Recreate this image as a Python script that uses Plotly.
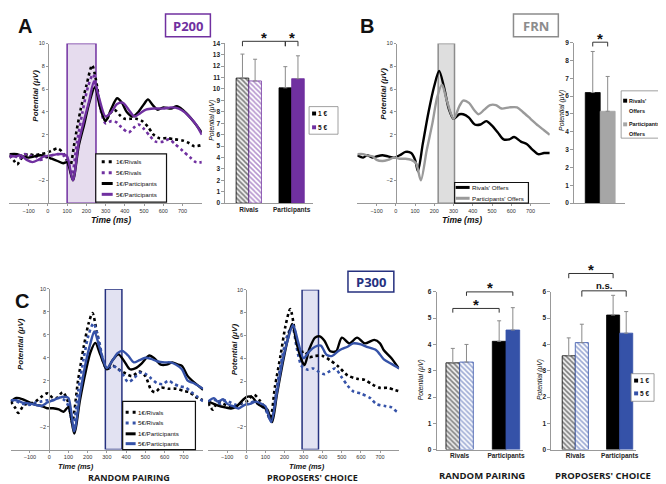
import plotly.graph_objects as go

# ======================= DATA =======================
TIME_TICKS = [-100, 0, 100, 200, 300, 400, 500, 600, 700]
ERP_YTICKS = [-2, 2, 4, 6, 8, 10]

A_WINDOW = [100, 250]
B_WINDOW = [220, 305]
C_WINDOW = [292, 378]

# ---- Panel A ERP (P200) ----
a_rival1_t = [-200,-175,-160,-130,-100,-70,-40,-10,20,50,75,100,115,140,170,200,230,250,275,300,320,345,375,400,430,460,490,520,550,580,620,660,700,730,760,800]
a_rival1_v = [0.2,-0.3,-0.6,0.1,0.3,0.2,0.3,0.4,0.6,0.8,0.5,-0.3,-0.8,1.5,4.2,6.3,8.1,6.8,4.3,3.2,3.8,4.2,3.7,3.4,3.4,3.4,3.2,2.7,2.0,1.7,1.7,1.6,1.5,1.3,1.0,1.1]
a_rival5_t = [-200,-175,-150,-120,-100,-70,-40,-10,20,50,80,105,125,150,180,210,235,255,280,300,330,355,380,420,445,470,500,530,560,600,630,660,700,740,770,800]
a_rival5_v = [0.0,0.2,-0.1,0.3,0.1,0.2,-0.2,0.0,0.2,0.3,0.2,-0.4,-1.5,1.2,4.0,6.3,7.3,6.0,3.8,3.0,3.2,3.1,2.7,2.2,2.6,2.9,2.5,1.9,1.4,1.4,1.6,1.2,0.6,0.0,-0.4,-0.4]
a_part1_t = [-200,-160,-130,-100,-70,-40,-10,20,50,80,100,130,160,190,215,245,270,300,330,360,385,410,440,470,500,520,545,570,600,640,670,700,730,760,800]
a_part1_v = [0.3,0.3,0.1,0.0,0.1,0.2,0.1,-0.1,-0.3,-0.5,-0.4,-2.0,1.0,3.0,4.8,6.2,4.5,3.2,4.3,5.2,4.8,4.0,3.6,4.0,4.7,5.1,4.6,4.2,4.4,4.3,4.5,4.2,3.7,3.1,2.2]
a_part5_t = [-200,-170,-140,-110,-80,-50,-20,20,50,80,100,130,160,190,215,240,265,300,330,360,390,420,450,480,510,550,600,640,680,710,740,770,800]
a_part5_v = [0.2,0.1,0.2,-0.2,-0.4,-0.2,0.1,0.2,0.3,0.3,0.1,-2.0,1.3,3.4,5.0,6.7,5.3,3.6,4.0,4.7,4.8,4.2,3.6,3.9,4.2,4.3,4.3,4.4,4.3,4.0,3.5,2.9,2.0]

# ---- Panel B ERP (FRN) ----
b_rivals_t = [-200,-170,-150,-120,-100,-70,-40,-10,20,50,80,100,115,140,170,200,225,250,275,300,330,350,380,410,440,470,500,530,560,590,615,650,680,710,740,770,800]
b_rivals_v = [0.2,0.0,0.2,0.0,0.1,0.2,0.1,0.0,0.2,0.5,0.4,-0.2,-1.2,1.2,4.0,6.3,7.6,6.2,4.3,3.4,3.8,3.8,3.5,2.9,2.9,3.2,2.8,2.2,1.6,1.6,1.8,1.4,1.2,0.7,0.3,0.4,0.4]
b_part_t = [-200,-170,-150,-120,-100,-70,-40,-10,20,50,80,105,130,160,190,215,240,265,300,330,350,380,410,430,460,490,520,550,590,630,660,700,740,770,800]
b_part_v = [0.3,0.3,0.2,0.1,-0.2,-0.3,-0.2,0.0,-0.1,-0.1,-0.2,-0.5,-2.0,0.6,3.0,5.3,6.4,5.0,3.4,4.5,5.0,4.8,4.1,3.8,4.2,4.6,4.6,4.3,4.4,4.4,4.0,3.4,2.8,2.4,2.0]

# ---- Panel C ERP, random pairing ----
crp_rival1_t = [-200,-175,-160,-130,-100,-70,-40,-10,20,40,70,95,120,150,180,205,225,250,275,300,330,360,400,430,470,500,530,550,580,620,660,700,730,760,800]
crp_rival1_v = [0.2,-0.4,-0.8,-0.1,0.0,0.2,0.6,0.9,0.5,0.5,1.0,0.3,-1.5,2.0,5.0,7.0,7.9,6.0,4.0,3.0,3.3,3.0,2.6,2.4,2.8,2.4,1.2,1.0,1.4,1.3,1.3,1.1,1.0,0.6,0.3]
crp_rival5_t = [-200,-170,-140,-100,-70,-40,-10,20,50,80,100,125,150,180,205,230,255,280,300,330,360,380,410,440,470,500,530,560,590,620,650,680,710,740,770,800]
crp_rival5_v = [0.3,0.2,0.0,-0.1,0.1,0.2,0.3,0.3,0.5,0.3,-0.2,-2.0,1.0,4.0,6.0,7.0,5.8,3.8,3.0,3.3,3.0,2.6,1.9,2.2,2.7,2.6,2.2,1.8,1.7,2.0,1.7,1.5,1.4,1.0,0.6,0.2]
crp_part1_t = [-200,-170,-140,-100,-70,-40,-10,20,50,75,100,130,160,190,215,240,265,300,330,360,390,420,450,480,520,550,580,610,640,670,690,720,750,780,800]
crp_part1_v = [0.2,0.5,0.4,0.1,-0.1,-0.2,-0.4,-0.4,-0.5,-0.7,-0.3,-2.6,0.3,2.8,4.5,5.3,4.3,3.0,3.8,4.3,3.7,3.0,3.1,3.5,4.2,3.9,3.4,3.4,3.6,3.4,3.3,2.4,1.9,1.5,1.2]
crp_part5_t = [-200,-170,-140,-100,-70,-40,-10,20,50,80,100,130,160,190,215,235,260,300,330,355,380,410,440,470,500,530,560,600,630,660,690,720,750,780,800]
crp_part5_v = [0.3,0.3,0.1,0.0,-0.1,-0.2,0.1,0.3,0.5,0.6,0.5,-2.4,0.8,3.6,5.3,6.3,5.0,3.1,3.8,4.4,4.6,4.2,3.6,3.8,4.0,3.9,3.7,3.6,3.6,3.4,3.0,2.0,1.8,1.5,1.3]

# ---- Panel C ERP, proposers' choice ----
cpc_rival1_t = [-200,-175,-150,-120,-90,-60,-30,0,40,70,100,125,150,180,205,230,255,280,305,330,360,400,440,480,530,580,620,660,700,740,780,800]
cpc_rival1_v = [0.1,-0.5,0.2,0.0,-0.2,-0.3,0.0,0.2,0.8,0.3,-0.4,-1.3,1.5,4.3,6.8,8.3,6.3,4.5,4.6,4.1,4.2,4.2,3.8,3.3,2.5,2.2,2.1,1.7,1.4,1.4,1.2,1.1]
cpc_rival5_t = [-200,-170,-140,-110,-80,-50,-20,10,40,70,100,130,160,190,215,240,265,290,320,350,380,410,440,465,500,530,560,600,650,680,730,760,790,800]
cpc_rival5_v = [0.2,0.4,0.0,0.3,0.1,-0.1,0.1,0.0,0.2,-0.1,-0.5,-1.5,1.5,4.3,6.0,6.8,4.8,3.3,3.0,3.1,2.8,2.6,2.9,3.1,2.3,1.6,1.1,0.9,0.5,0.0,-0.2,-0.3,-0.7,-0.7]
cpc_part1_t = [-200,-170,-140,-110,-80,-50,-20,0,30,60,90,110,135,160,190,215,240,265,290,305,330,360,385,410,440,470,500,540,580,620,670,700,720,760,790,800]
cpc_part1_v = [0.2,0.0,-0.2,-0.3,-0.4,-0.2,0.3,0.6,0.6,0.0,-0.3,-0.5,-1.6,0.8,3.5,5.5,7.0,5.2,3.8,3.4,4.8,5.8,5.9,5.5,4.6,4.6,5.8,5.3,5.8,5.3,5.6,5.3,4.7,4.0,3.3,3.1]
cpc_part5_t = [-200,-170,-150,-120,-100,-70,-40,-10,20,50,80,100,130,160,190,215,245,270,300,330,360,390,420,450,480,500,530,560,600,630,680,720,760,790,800]
cpc_part5_v = [0.2,0.5,0.2,0.4,0.0,-0.2,-0.4,-0.1,0.0,0.2,0.0,-0.2,-1.6,1.0,3.8,5.5,6.9,5.5,4.0,4.6,5.0,5.1,4.3,4.2,4.6,4.8,5.0,5.3,5.2,5.0,4.7,3.9,3.5,3.2,3.1]

# ---- Bar charts ----
BAR_GROUPS = ['Rivals', 'Participants']
a_bar_1e = [10.95, 10.10]
a_bar_1e_err = [2.10, 1.85]
a_bar_5e = [10.70, 10.90]
a_bar_5e_err = [1.90, 2.00]

B_BAR_CAT = ['Offers']
b_bar_rivals = [6.20]
b_bar_rivals_err = [2.30]
b_bar_part = [5.15]
b_bar_part_err = [1.95]

c_rp_1e = [3.30, 4.12]
c_rp_1e_err = [0.55, 0.78]
c_rp_5e = [3.33, 4.55]
c_rp_5e_err = [0.67, 0.85]

c_pc_1e = [3.57, 5.12]
c_pc_1e_err = [0.68, 0.75]
c_pc_5e = [4.07, 4.43]
c_pc_5e_err = [0.70, 0.82]

# ======================= STYLE / LAYOUT =======================
W, H = 666, 484
def px(x): return x / W
def py(y): return 1 - y / H

PURPLE = '#7030A0'
BLUE = '#3552A8'
NAVY = '#26317F'
GRAY = '#9A9A9A'
BLACK = '#000000'
TICKFONT = dict(family='Liberation Sans', size=5.5, color='#333')
BARGAP = 0.41

fig = go.Figure()
shapes = []
annos = []

def erp_axes(n, dom_px, ydom_px, zero_px):
    fig.layout[f'xaxis{n}'] = dict(domain=[px(dom_px[0]), px(dom_px[1])], range=[-200, 800],
                                  anchor=f'y{n}', tickvals=TIME_TICKS, ticks='outside', ticklen=2,
                                  tickcolor='#999', showline=True, linecolor='#999', linewidth=1,
                                  showgrid=False, zeroline=False, tickfont=TICKFONT, fixedrange=True)
    fig.layout[f'yaxis{n}'] = dict(domain=[py(ydom_px[1]), py(ydom_px[0])], range=[-4, 10],
                                  anchor='free', position=px(zero_px), tickvals=ERP_YTICKS,
                                  ticks='outside', ticklen=2, tickcolor='#999', showline=True,
                                  linecolor='#999', linewidth=1, showgrid=False, zeroline=False,
                                  tickfont=TICKFONT, fixedrange=True)

def erp_line(n, t, v, color, dotted):
    fig.add_trace(go.Scatter(x=t, y=v, mode='lines', xaxis=f'x{n}', yaxis=f'y{n}',
                             line=dict(color=color, width=2.6 if dotted else 2.4,
                                       dash='3px,3px' if dotted else 'solid',
                                       shape='spline', smoothing=0.8),
                             showlegend=False, hoverinfo='skip'))

def window(n, win, fill, edge):
    shapes.append(dict(type='rect', xref=f'x{n}', yref=f'y{n}', x0=win[0], x1=win[1], y0=-4, y1=10,
                       fillcolor=fill, line=dict(color=edge, width=1.5), layer='below'))

BAR_AX = {}
def bar_axes(n, dom_px, ydom_px, c0_px, unit_px, yrange, dtick, show_cats=True):
    r0 = (dom_px[0] - c0_px) / unit_px
    r1 = (dom_px[1] - c0_px) / unit_px
    BAR_AX[n] = dict(dom=dom_px, ydom=ydom_px, r=(r0, r1), yr=yrange)
    fig.layout[f'xaxis{n}'] = dict(domain=[px(dom_px[0]), px(dom_px[1])], range=[r0, r1],
                                  anchor=f'y{n}', showline=True, linecolor='#999', linewidth=1,
                                  ticks='', showgrid=False, zeroline=False, showticklabels=show_cats,
                                  tickfont=dict(family='Liberation Sans', size=6.5, color='#222', weight='bold'),
                                  fixedrange=True)
    fig.layout[f'yaxis{n}'] = dict(domain=[py(ydom_px[1]), py(ydom_px[0])], range=yrange, dtick=dtick,
                                  anchor=f'x{n}', ticks='outside', ticklen=3, tickcolor='#999',
                                  showline=True, linecolor='#999', linewidth=1, showgrid=False,
                                  zeroline=False, tickfont=dict(family='Liberation Sans', size=6.5, color='#222', weight='bold'),
                                  fixedrange=True)

def bar_pair(n, cats, v1, e1, c1, v2, e2, c2, hatch_first=True):
    shp1 = ['\\' if (hatch_first and i == 0) else '' for i in range(len(cats))]
    for vals, errs, col in ((v1, e1, c1), (v2, e2, c2)):
        fig.add_trace(go.Bar(x=cats, y=vals, xaxis=f'x{n}', yaxis=f'y{n}',
                             marker=dict(color=col, line=dict(color=col, width=0.8),
                                         pattern=dict(shape=shp1, fgcolor=col, bgcolor='#f4f4f4' if col == BLACK else 'white',
                                                      size=3.5, solidity=0.45)),
                             error_y=dict(type='data', symmetric=False, array=errs,
                                          arrayminus=[0] * len(errs), color='#8a8a8a', thickness=1, width=2),
                             showlegend=False, hoverinfo='skip'))

def bar_xpx(n, cat, k):
    a = BAR_AX[n]
    c = cat + (-1 if k == 0 else 1) * (1 - BARGAP) / 4
    return a['dom'][0] + (c - a['r'][0]) / (a['r'][1] - a['r'][0]) * (a['dom'][1] - a['dom'][0])

def bar_ypx(n, v):
    a = BAR_AX[n]
    return a['ydom'][1] - (v - a['yr'][0]) / (a['yr'][1] - a['yr'][0]) * (a['ydom'][1] - a['ydom'][0])

def bracket(n, p1, p2, top, leg, label, size=15, dy=4):
    x1, x2 = bar_xpx(n, *p1), bar_xpx(n, *p2)
    yt, yl = bar_ypx(n, top), bar_ypx(n, leg)
    path = f'M {px(x1)},{py(yl)} L {px(x1)},{py(yt)} L {px(x2)},{py(yt)} L {px(x2)},{py(yl)}'
    shapes.append(dict(type='path', xref='paper', yref='paper', path=path,
                       line=dict(color='#333', width=1)))
    annos.append(dict(x=px((x1 + x2) / 2), y=py(yt - dy), xref='paper', yref='paper', text=label,
                      showarrow=False, xanchor='center', yanchor='middle',
                      font=dict(family='Liberation Sans', size=size, color='#111', weight='bold')))

def text(x, y, s, size, color='#111', bold=False, italic=False, angle=0, family='Liberation Sans', xanchor='center', weight=None):
    w = weight if weight is not None else ('bold' if bold else 'normal')
    annos.append(dict(x=px(x), y=py(y), xref='paper', yref='paper', text=s, showarrow=False,
                      xanchor=xanchor, yanchor='middle', textangle=angle, borderpad=0,
                      font=dict(family=family, size=size, color=color, weight=w,
                                style='italic' if italic else 'normal')))

def boxed_label(x0, y0, x1, y1, s, color, size=13):
    shapes.append(dict(type='rect', xref='paper', yref='paper', x0=px(x0), x1=px(x1), y0=py(y1), y1=py(y0),
                       line=dict(color=color, width=1.5), fillcolor='white'))
    text((x0 + x1) / 2, (y0 + y1) / 2 + 0.5, s, size, color=color, bold=True, family='Open Sans')

def erp_legend(box, rows, sx, tx, items, size=6.2):
    shapes.append(dict(type='rect', xref='paper', yref='paper', x0=px(box[0]), x1=px(box[2]),
                       y0=py(box[3]), y1=py(box[1]), line=dict(color='#111', width=1.2),
                       fillcolor='white', layer='above'))
    for (lab, col, dotted), yy in zip(items, rows):
        shapes.append(dict(type='line', xref='paper', yref='paper', x0=px(sx[0]), x1=px(sx[1]),
                           y0=py(yy), y1=py(yy), layer='above',
                           line=dict(color=col, width=3, dash='3px,4px' if dotted else 'solid')))
        text(tx, yy, lab, size, color='#111', xanchor='left')

def square_legend(box, rows, sqx, tx, items, size=6.5):
    shapes.append(dict(type='rect', xref='paper', yref='paper', x0=px(box[0]), x1=px(box[2]),
                       y0=py(box[3]), y1=py(box[1]), line=dict(color='#888', width=0.8), fillcolor='white'))
    for (lab, col), yy in zip(items, rows):
        shapes.append(dict(type='rect', xref='paper', yref='paper', x0=px(sqx), x1=px(sqx + 4),
                           y0=py(yy + 2), y1=py(yy - 2), fillcolor=col, line=dict(width=0)))
        text(tx, yy, lab, size, color='#111', bold=True, xanchor='left')

# ---------- Panel A ----------
erp_axes(1, (1.4, 194.4), (32, 194), 40)
window(1, A_WINDOW, '#E6DCEE', PURPLE)
erp_line(1, a_rival1_t, a_rival1_v, BLACK, True)
erp_line(1, a_rival5_t, a_rival5_v, PURPLE, True)
erp_line(1, a_part1_t, a_part1_v, BLACK, False)
erp_line(1, a_part5_t, a_part5_v, PURPLE, False)
erp_legend((88, 144, 159, 193), [152, 163, 174, 185], (94, 105), 107,
           [('1€/Rivals', BLACK, True), ('5€/Rivals', PURPLE, True),
            ('1€/Participants', BLACK, False), ('5€/Participants', PURPLE, False)])

bar_axes(2, (218, 306), (31.7, 194), 241.5, 43, [0, 14], 1)
bar_pair(2, BAR_GROUPS, a_bar_1e, a_bar_1e_err, BLACK, a_bar_5e, a_bar_5e_err, PURPLE)
bracket(2, (0, 0), (1, 0), 14.17, 13.74, '*')
bracket(2, (1, 0), (1, 1), 14.17, 13.74, '*')
square_legend((302, 96, 331, 124), [103, 117], 305, 310, [('1 €', BLACK), ('5 €', PURPLE)])

# ---------- Panel B ----------
erp_axes(3, (350.4, 543.4), (32, 194), 389)
window(3, B_WINDOW, '#DEDEDE', '#8C8C8C')
erp_line(3, b_rivals_t, b_rivals_v, BLACK, False)
erp_line(3, b_part_t, b_part_v, GRAY, False)
erp_legend((448, 173, 522, 194), [178, 189], (449, 463), 464,
           [("Rivals' Offers", BLACK, False), ("Participants' Offers", GRAY, False)])

bar_axes(4, (568, 619), (31, 194), 594, 50.8, [0, 9], 1, show_cats=False)
bar_pair(4, B_BAR_CAT, b_bar_rivals, b_bar_rivals_err, BLACK, b_bar_part, b_bar_part_err, '#A6A6A6', hatch_first=False)
bracket(4, (0, 0), (0, 1), 9.02, 8.78, '*')
shapes.append(dict(type='rect', xref='paper', yref='paper', x0=px(615), x1=px(661), y0=py(128), y1=py(80),
                   line=dict(color='#888', width=0.8), fillcolor='white'))
for (l1, l2, col), yy in ((("Rivals'", 'Offers', BLACK), 90), (("Participants'", 'Offers', '#A6A6A6'), 114)):
    shapes.append(dict(type='rect', xref='paper', yref='paper', x0=px(617), x1=px(621),
                       y0=py(yy + 2), y1=py(yy - 2), fillcolor=col, line=dict(width=0)))
    text(622, yy, l1, 5.4, bold=True, xanchor='left')
    text(622, yy + 10, l2, 5.4, bold=True, xanchor='left')

# ---------- Panel C ERPs ----------
erp_axes(5, (2.7, 195.7), (281, 444), 41.3)
window(5, C_WINDOW, '#E2E2F2', NAVY)
erp_line(5, crp_rival1_t, crp_rival1_v, BLACK, True)
erp_line(5, crp_rival5_t, crp_rival5_v, BLUE, True)
erp_line(5, crp_part1_t, crp_part1_v, BLACK, False)
erp_line(5, crp_part5_t, crp_part5_v, BLUE, False)
erp_legend((115, 395, 188, 444), [406, 417, 428, 438], (118, 128), 129,
           [('1€/Rivals', BLACK, True), ('5€/Rivals', BLUE, True),
            ('1€/Participants', BLACK, False), ('5€/Participants', BLUE, False)])

erp_axes(6, (200.7, 392.3), (281.7, 444), 239)
window(6, C_WINDOW, '#E2E2F2', NAVY)
erp_line(6, cpc_rival1_t, cpc_rival1_v, BLACK, True)
erp_line(6, cpc_rival5_t, cpc_rival5_v, BLUE, True)
erp_line(6, cpc_part1_t, cpc_part1_v, BLACK, False)
erp_line(6, cpc_part5_t, cpc_part5_v, BLUE, False)

# ---------- Panel C bars ----------
bar_axes(7, (430, 517), (284, 444), 453, 46.5, [0, 6], 1)
bar_pair(7, BAR_GROUPS, c_rp_1e, c_rp_1e_err, BLACK, c_rp_5e, c_rp_5e_err, BLUE)
bracket(7, (0, 0), (1, 0), 5.37, 5.21, '*')
bracket(7, (0, 1), (1, 1), 6.0, 5.85, '*')

bar_axes(8, (545, 630), (284, 444), 569, 44.5, [0, 6], 1)
bar_pair(8, BAR_GROUPS, c_pc_1e, c_pc_1e_err, BLACK, c_pc_5e, c_pc_5e_err, BLUE)
bracket(8, (0, 0), (1, 0), 6.70, 6.52, '*')
bracket(8, (0, 1), (1, 1), 6.04, 5.82, 'n.s.', size=9.5, dy=5)
square_legend((625, 367, 648, 395), [374, 387], 628, 633, [('1 €', BLACK), ('5 €', BLUE)])

# ---------- Texts ----------
text(17, 14, 'A', 20, bold=True)
text(360, 14, 'B', 20, bold=True)
text(14, 293, 'C', 20, bold=True)
boxed_label(158, 2, 203, 25, 'P200', PURPLE)
boxed_label(507, 2, 552, 25, 'FRN', '#8C8C8C')
boxed_label(341, 263, 387, 284, 'P300', NAVY)

for (x, y) in ((103, 211), (455, 211)):
    text(x, y, 'Time (ms)', 8.5, bold=True, italic=True)
for (x, y) in ((68, 461), (300, 461)):
    text(x, y, 'Time (ms)', 7.5, bold=True, italic=True)
for (x, y) in ((28, 85), (377, 83), (12, 337), (227, 342)):
    text(x, y, 'Potential (μV)', 8, bold=True, italic=True, angle=-90)
for (x, y) in ((205, 110), (555, 100), (414, 373), (533, 373)):
    text(x, y, 'Potential (μV)', 6.8, italic=True, angle=-90)

TITLE = dict(family='Open Sans', bold=True, color='#1a1a1a')
text(121, 472, 'RANDOM PAIRING', 9, **TITLE)
text(305, 472, "PROPOSERS' CHOICE", 9, **TITLE)
text(475, 470, 'RANDOM PAIRING', 9.5, **TITLE)
text(597, 470, "PROPOSERS' CHOICE", 9.5, **TITLE)

fig.update_layout(width=W, height=H, margin=dict(l=0, r=0, t=0, b=0), paper_bgcolor='white',
                  plot_bgcolor='rgba(0,0,0,0)', barmode='group', bargap=BARGAP, bargroupgap=0,
                  shapes=shapes, annotations=annos, showlegend=False)

fig.write_html('out.html')
